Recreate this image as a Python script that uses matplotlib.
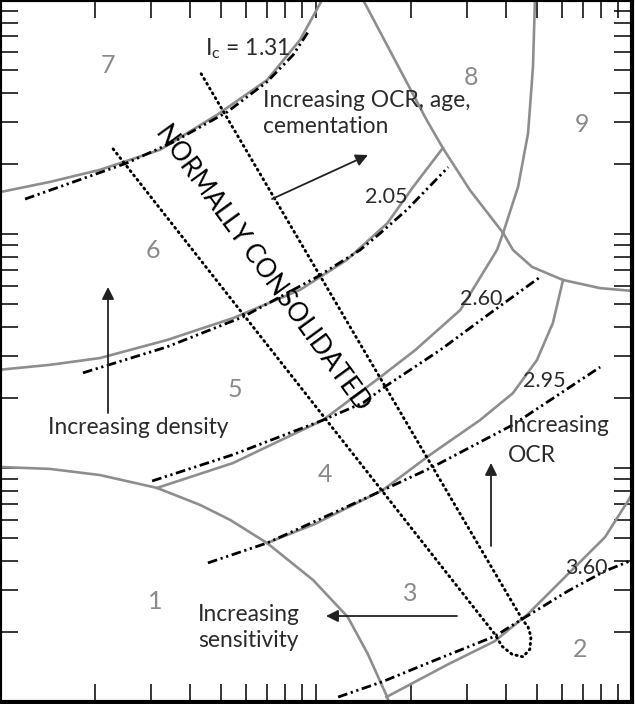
from matplotlib import pyplot as plt
import numpy as np

plt.rcParams['font.family'] = ['Lato', 'DejaVu Sans']

# soil behaviour type zone boundaries, Fr (%) vs Qt
zone1_fr = [0.1, 0.144, 0.207, 0.314, 0.430, 0.535, 0.700, 0.979, 1.26, 1.46, 1.68, 1.74]
zone1_qt = [10.1, 9.91, 9.33, 8.22, 6.95, 6.00, 4.78, 3.32, 2.31, 1.60, 1.05, 0.906]

zone23_fr = [1.67, 2.62, 3.68, 4.69, 6.27, 8.22, 9.71, 10.6]
zone23_qt = [1.05, 1.45, 1.82, 2.38, 3.52, 5.07, 7.23, 8.89]

zone34_fr = [0.700, 0.993, 1.63, 2.30, 2.60, 3.30, 4.20, 5.00, 5.62, 6.05]
zone34_qt = [4.78, 5.77, 8.06, 11.4, 12.8, 16.0, 20.9, 28.9, 41.7, 63.6]

zone45_fr = [0.314, 0.546, 1.05, 1.60, 2.06, 2.86, 3.74, 3.91]
zone45_qt = [8.22, 10.5, 16.0, 24.5, 31.9, 47.3, 85.5, 101]

zone56_fr = [0.1, 0.144, 0.207, 0.337, 0.546, 0.890, 1.25, 1.68, 2.03, 2.52]
zone56_qt = [26.3, 27.6, 29.5, 35.2, 43.7, 57.7, 77.4, 111, 159, 233]

zone67_fr = [0.1, 0.144, 0.207, 0.321, 0.486, 0.700, 0.890, 1.045, 1.10]
zone67_qt = [151, 167, 188, 229, 323, 455, 675, 1000, 1160]

zone8_fr = [1.41, 2.24, 2.52, 3.07, 3.91]
zone8_qt = [1000, 307, 233, 154, 101]

zone89_fr = [4.93, 4.86, 4.69, 4.36, 3.91]
zone89_qt = [1000, 518, 270, 159, 101]

zone9_fr = [3.91, 4.20, 4.83, 6.05, 7.93, 10.2]
zone9_qt = [101, 85.5, 72.3, 63.6, 58.7, 57.0]

# Ic contours
ic131_fr = [0.120, 0.252, 0.353, 0.523, 0.700, 0.846, 0.944]
ic131_qt = [141, 201, 247, 332, 447, 582, 730]

ic205_fr = [0.183, 0.337, 0.587, 1.007, 1.38, 1.60, 1.94, 2.62]
ic205_qt = [25.5, 32.9, 44.2, 65.5, 85.5, 101, 127, 193]

ic260_fr = [0.303, 0.546, 1.05, 1.41, 1.68, 2.47, 3.56, 5.12]
ic260_qt = [8.80, 11.4, 16.0, 19.0, 22.6, 31.9, 45.9, 65.5]

ic295_fr = [0.455, 0.700, 1.03, 1.71, 2.34, 4.20, 7.93]
ic295_qt = [3.93, 4.78, 6.05, 8.29, 10.1, 15.3, 27.0]

ic360_fr = [1.175, 1.62, 2.47, 3.68, 4.49, 6.27, 8.22, 10.2]
ic360_qt = [1.05, 1.22, 1.54, 1.91, 2.26, 2.98, 3.63, 4.08]

# normally consolidated band
nc_fr = [0.228, 3.68, 3.88, 4.17, 4.52, 4.75, 4.79, 4.69, 4.49, 0.430]
nc_qt = [231, 1.95, 1.73, 1.60, 1.56, 1.68, 1.90, 2.09, 2.26, 492]

zone_names = ['1', '2', '3', '4', '5', '6', '7', '8', '9']


def P(x, y):
    # pixel position on the 635x704 picture -> figure fraction
    return (x / 635.0, 1 - y / 704.0)


fig = plt.figure(figsize=(6.35, 7.04), dpi=100)
ax = fig.add_axes([0, 2 / 704, 632 / 635, 702 / 704])
ax.set_xscale('log')
ax.set_yscale('log')
ax.set_xlim(0.1, 10)
ax.set_ylim(1, 1000)

gray = '#8e8e8e'
for fr, qt in [(zone1_fr, zone1_qt), (zone23_fr, zone23_qt), (zone34_fr, zone34_qt),
               (zone45_fr, zone45_qt), (zone56_fr, zone56_qt), (zone67_fr, zone67_qt),
               (zone8_fr, zone8_qt), (zone89_fr, zone89_qt), (zone9_fr, zone9_qt)]:
    ax.plot(fr, qt, color=gray, lw=1.9, solid_joinstyle='round')

dashdot = (0, (3.5, 1.3, 0.8, 1.3, 0.8, 1.3))
for fr, qt in [(ic131_fr, ic131_qt), (ic205_fr, ic205_qt), (ic260_fr, ic260_qt),
               (ic295_fr, ic295_qt), (ic360_fr, ic360_qt)]:
    ax.plot(fr, qt, color='black', lw=2.0, linestyle=dashdot)

ax.plot(nc_fr, nc_qt, color='black', lw=2.1, linestyle=(0, (0.4, 1.5)),
        dash_capstyle='round')

# ticks inside on every side, no labels
ax.tick_params(which='both', direction='in', length=13, width=1.1,
               top=True, right=True, labelbottom=False, labelleft=False)
for s in ax.spines.values():
    s.set_linewidth(3)

# zone numbers
zone_pos = [(155, 609), (580, 657), (410, 601), (325, 482), (235, 397),
            (153, 258), (108, 73), (471, 85), (582, 132)]
for name, (x, y) in zip(zone_names, zone_pos):
    fig.text(*P(x, y), name, color='#8a8a8a', fontsize=18, ha='center', va='baseline')

txt = '#2b2b2b'
fs = 16.4
fig.text(*P(263, 107), 'Increasing OCR, age,', color=txt, fontsize=fs, va='baseline')
fig.text(*P(263, 133), 'cementation', color=txt, fontsize=fs, va='baseline')
fig.text(*P(48, 434), 'Increasing density', color=txt, fontsize=fs, va='baseline')
fig.text(*P(508, 432), 'Increasing', color=txt, fontsize=fs, va='baseline')
fig.text(*P(508, 462), 'OCR', color=txt, fontsize=fs, va='baseline')
fig.text(*P(198, 621), 'Increasing', color=txt, fontsize=fs, va='baseline')
fig.text(*P(198, 647), 'sensitivity', color=txt, fontsize=fs, va='baseline')

fig.text(*P(205, 55), r'I$_\mathregular{c}$ = 1.31', color=txt, fontsize=16.5, va='baseline')
fig.text(*P(365, 203), '2.05', color=txt, fontsize=15.5, va='baseline')
fig.text(*P(460, 305), '2.60', color=txt, fontsize=15.5, va='baseline')
fig.text(*P(523, 387), '2.95', color=txt, fontsize=15.5, va='baseline')
fig.text(*P(565, 574), '3.60', color=txt, fontsize=15.5, va='baseline')

fig.text(*P(263, 268), 'NORMALLY CONSOLIDATED', color='black', fontsize=18.5,
         rotation=-54, rotation_mode='anchor', ha='center', va='center')

# arrows
arrows = [((272, 199), (368, 155)), ((108, 413), (108, 287)),
          ((491, 546), (491, 463)), ((457, 616), (326, 616))]
for start, end in arrows:
    ax.annotate('', xy=P(*end), xytext=P(*start), xycoords='figure fraction',
                textcoords='figure fraction',
                arrowprops=dict(arrowstyle='-|>', color='#222222', lw=1.3,
                                mutation_scale=18, shrinkA=0, shrinkB=0))

fig.savefig('out.png', dpi=100)
